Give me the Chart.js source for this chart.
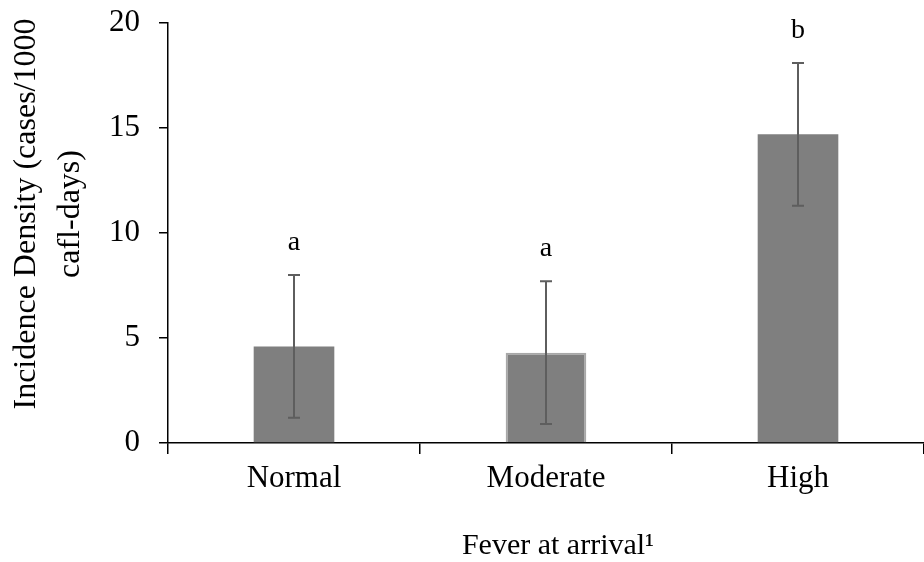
<!DOCTYPE html>
<html>
<head>
<meta charset="utf-8">
<script src="https://cdn.jsdelivr.net/npm/chart.js@4"></script>
<style>
  html, body { margin: 0; padding: 0; background: #fff; }
</style>
</head>
<body>
<canvas id="chart" width="924" height="562"></canvas>
<script>
const categories = ['Normal', 'Moderate', 'High'];
const incidence = [4.6, 4.3, 14.7];
const errorLow = [1.2, 0.9, 11.3];
const errorHigh = [8.0, 7.7, 18.1];
const groupLetters = ['a', 'a', 'b'];
const yTitleLines = ['Incidence Density (cases/1000', 'cafl-days)'];
const xTitle = 'Fever at arrival\u00b9';

const serif = '"Liberation Serif", "Times New Roman", serif';

// error bars + significance letters drawn from the scales
const errorBars = {
  id: 'errorBars',
  afterDatasetsDraw(chart) {
    const { ctx, scales: { y } } = chart;
    const meta = chart.getDatasetMeta(0);
    ctx.save();
    ctx.strokeStyle = '#5e5e5e';
    ctx.lineWidth = 2;
    ctx.fillStyle = '#000';
    ctx.font = '28px ' + serif;
    ctx.textAlign = 'center';
    ctx.textBaseline = 'alphabetic';
    meta.data.forEach((bar, i) => {
      const x = Math.round(bar.x);
      const top = y.getPixelForValue(errorHigh[i]);
      const bottom = y.getPixelForValue(errorLow[i]);
      ctx.beginPath();
      ctx.moveTo(x, top); ctx.lineTo(x, bottom);
      ctx.moveTo(x - 6, top); ctx.lineTo(x + 6, top);
      ctx.moveTo(x - 6, bottom); ctx.lineTo(x + 6, bottom);
      ctx.stroke();
      ctx.fillText(groupLetters[i], x, top - 25);
    });
    ctx.restore();
  }
};

const axisTitles = {
  id: 'axisTitles',
  afterDraw(chart) {
    const ctx = chart.ctx;
    ctx.save();
    ctx.fillStyle = '#000';
    ctx.font = '32px ' + serif;
    ctx.textAlign = 'center';
    ctx.textBaseline = 'middle';
    ctx.translate(0, 214);
    ctx.rotate(-Math.PI / 2);
    ctx.fillText(yTitleLines[0], 0, 27);
    ctx.fillText(yTitleLines[1], 0, 71);
    ctx.restore();

    ctx.save();
    ctx.fillStyle = '#000';
    ctx.font = '30px ' + serif;
    ctx.textAlign = 'center';
    ctx.textBaseline = 'middle';
    ctx.fillText(xTitle, 558, 546);
    ctx.restore();
  }
};

new Chart(document.getElementById('chart'), {
  type: 'bar',
  data: {
    labels: categories,
    datasets: [{
      data: incidence,
      backgroundColor: '#7f7f7f',
      borderColor: ['#7f7f7f', '#a8a8a8', '#7f7f7f'],
      borderWidth: [0, 2, 0],
      barPercentage: 0.32,
      categoryPercentage: 1
    }]
  },
  options: {
    responsive: false,
    animation: false,
    devicePixelRatio: 1,
    layout: { padding: { top: 23, left: 0, right: 0, bottom: 0 } },
    plugins: { legend: { display: false }, tooltip: { enabled: false } },
    scales: {
      x: {
        offset: true,
        grid: { display: true, drawOnChartArea: false, drawTicks: true, tickLength: 11, color: '#000', lineWidth: 1.5, offset: true },
        border: { color: '#000', width: 1.5 },
        ticks: { color: '#000', font: { family: serif, size: 31 }, padding: 6 },
        afterFit(scale) { scale.height = 119; scale.paddingLeft = 0; scale.paddingRight = 0; }
      },
      y: {
        min: 0,
        max: 20,
        grid: { display: true, drawOnChartArea: false, drawTicks: true, tickLength: 9, color: '#000', lineWidth: 1.5 },
        border: { color: '#000', width: 1.5 },
        ticks: { stepSize: 5, color: '#000', font: { family: serif, size: 31 }, padding: 19 },
        afterFit(scale) { scale.width = 168; scale.paddingTop = 0; scale.paddingBottom = 0; }
      }
    }
  },
  plugins: [errorBars, axisTitles]
});
</script>
</body>
</html>
